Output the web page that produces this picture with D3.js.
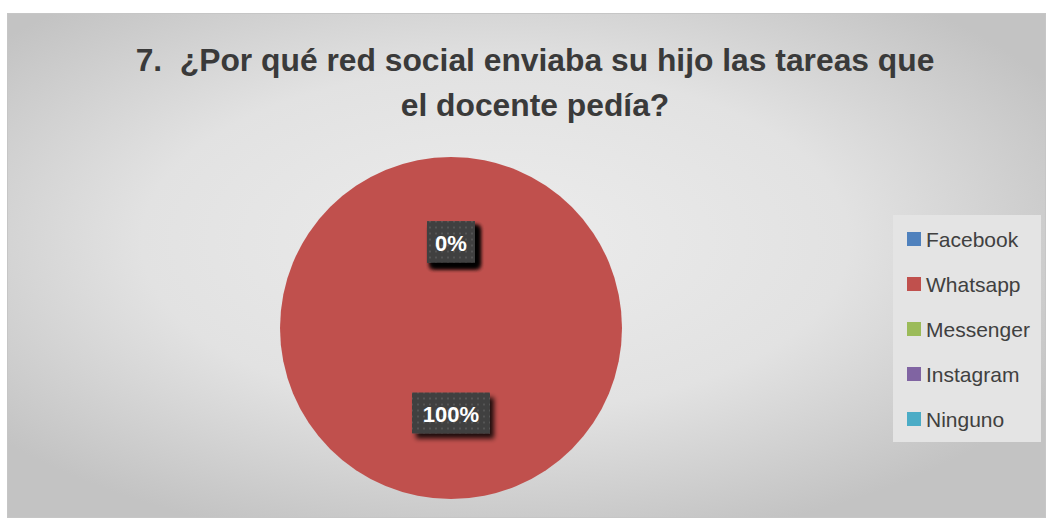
<!DOCTYPE html>
<html>
<head>
<meta charset="utf-8">
<script src="https://cdn.jsdelivr.net/npm/d3@7.9.0/dist/d3.min.js"></script>
<style>
  body { margin: 0; background: #fff; }
  svg { display: block; }
</style>
</head>
<body>
<svg id="chart" width="1048" height="519"></svg>
<script>
const categories = ['Facebook', 'Whatsapp', 'Messenger', 'Instagram', 'Ninguno'];
const values = [0, 100, 0, 0, 0];
const colorList = ['#4f81bd', '#c0504d', '#9bbb59', '#8064a2', '#4bacc6'];
const titleLines = ['7.  ¿Por qué red social enviaba su hijo las tareas que', 'el docente pedía?'];

const svg = d3.select('#chart');
const defs = svg.append('defs');

const bg = defs.append('radialGradient').attr('id', 'bg')
  .attr('cx', '0.47').attr('cy', '0.45').attr('r', '0.62');
bg.append('stop').attr('offset', '0').attr('stop-color', '#ececec');
bg.append('stop').attr('offset', '0.55').attr('stop-color', '#e2e2e2');
bg.append('stop').attr('offset', '1').attr('stop-color', '#c3c3c3');

const pat = defs.append('pattern').attr('id', 'dots')
  .attr('width', 6).attr('height', 6).attr('patternUnits', 'userSpaceOnUse');
pat.append('rect').attr('width', 6).attr('height', 6).attr('fill', '#404040');
pat.append('rect').attr('x', 2).attr('y', 2).attr('width', 2).attr('height', 2).attr('fill', '#555555');

const shadow = defs.append('filter').attr('id', 'shadow')
  .attr('x', '-30%').attr('y', '-30%').attr('width', '170%').attr('height', '170%');
shadow.append('feGaussianBlur').attr('in', 'SourceAlpha').attr('stdDeviation', 2.5);
shadow.append('feOffset').attr('dx', 4).attr('dy', 5).attr('result', 'o');
shadow.append('feComponentTransfer').append('feFuncA').attr('type', 'linear').attr('slope', 0.85);
const merge = shadow.append('feMerge');
merge.append('feMergeNode');
merge.append('feMergeNode').attr('in', 'SourceGraphic');

// chart area
svg.append('rect').attr('x', 7.5).attr('y', 13.5).attr('width', 1038).attr('height', 504)
  .attr('fill', 'url(#bg)').attr('stroke', '#c6c6c6').attr('stroke-width', 1);

// title
svg.append('text')
  .attr('text-anchor', 'middle')
  .attr('font-family', 'Liberation Sans, Arial, sans-serif')
  .attr('font-weight', 'bold')
  .attr('font-size', 31.8)
  .attr('fill', '#3a3a3a')
  .style('white-space', 'pre')
  .selectAll('tspan').data(titleLines).join('tspan')
  .attr('x', 535)
  .attr('y', (d, i) => 71 + i * 45)
  .text(d => d);

// pie
const cx = 451, cy = 328, radius = 171;
const pie = d3.pie().sort(null).value(d => d.value);
const arcs = pie(categories.map((c, i) => ({ label: c, value: values[i] })));
const arc = d3.arc().innerRadius(0).outerRadius(radius);
const color = d3.scaleOrdinal().domain(categories).range(colorList);

const g = svg.append('g').attr('transform', `translate(${cx},${cy})`);
g.selectAll('path').data(arcs).join('path')
  .attr('d', arc)
  .attr('fill', d => color(d.data.label));

// labels
const labelArc = d3.arc().innerRadius(radius * 0.5).outerRadius(radius * 0.5);
const total = d3.sum(values);
const labels = g.selectAll('g.lbl').data(arcs).join('g').attr('class', 'lbl')
  .attr('transform', d => {
    const [x, y] = labelArc.centroid(d);
    return `translate(${x},${y})`;
  });
labels.each(function (d) {
  const txt = Math.round(d.data.value / total * 100) + '%';
  const w = txt.length * 15 + 18;
  const sel = d3.select(this);
  sel.append('rect').attr('x', -w / 2).attr('y', -21).attr('width', w).attr('height', 41)
    .attr('fill', 'url(#dots)').attr('filter', 'url(#shadow)');
  sel.append('text')
    .attr('text-anchor', 'middle').attr('dy', 8)
    .attr('font-family', 'Liberation Sans, Arial, sans-serif')
    .attr('font-weight', 'bold').attr('font-size', 22)
    .attr('fill', '#ffffff').text(txt);
});

// legend
svg.append('rect').attr('x', 893).attr('y', 215).attr('width', 148).attr('height', 227)
  .attr('fill', '#e4e4e4');
const legend = svg.append('g');
const items = legend.selectAll('g').data(categories).join('g')
  .attr('transform', (d, i) => `translate(907,${239 + i * 45})`);
items.append('rect').attr('x', 0).attr('y', -7).attr('width', 14).attr('height', 14)
  .attr('fill', d => color(d));
items.append('text').attr('x', 19).attr('dy', 7.5)
  .attr('font-family', 'Liberation Sans, Arial, sans-serif')
  .attr('font-size', 21).attr('fill', '#404040')
  .text(d => d);
</script>
</body>
</html>
